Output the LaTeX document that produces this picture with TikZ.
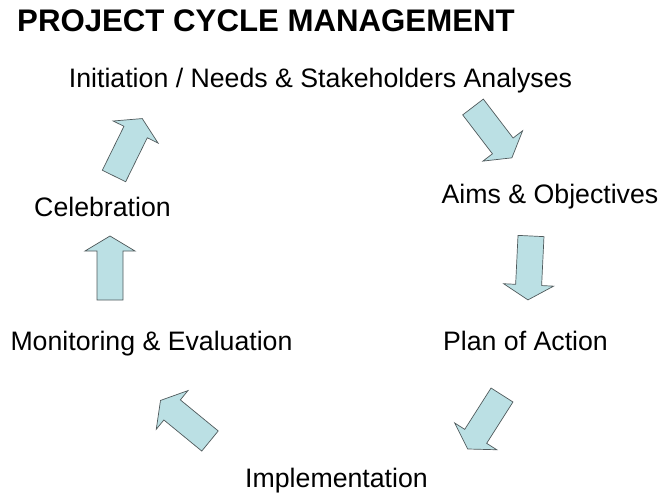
\documentclass[tikz,border=0pt]{standalone}
\usepackage{fontspec}
\setmainfont{Liberation Sans}
\usepackage{tikz}
\usetikzlibrary{positioning}

\definecolor{arrowblue}{RGB}{187,224,228}
\definecolor{arrowline}{RGB}{80,90,92}

\tikzset{
  stage/.style={inner sep=0pt, anchor=base, font=\fontsize{26.7}{32}\selectfont},
  arrowbody/.style={fill=arrowblue, draw=arrowline, line width=0.7pt, line join=miter},
  cyclearrow/.pic={
    \filldraw[arrowbody] (0,-13) -- (49,-13) -- (49,-25) -- (64,0)
      -- (49,25) -- (49,13) -- (0,13) -- cycle;
  }
}

\begin{document}
\begin{tikzpicture}[x=1pt, y=-1pt]
  \useasboundingbox (0,0) rectangle (662,495);

  % title
  \node [inner sep=0pt, anchor=base west, font=\fontsize{31.2}{36}\selectfont\bfseries] (title) at (17,32) {PROJECT CYCLE MANAGEMENT};

  % the stages of the cycle
  \node [stage] (init) at (320.5,88) {Initiation / Needs \& Stakeholders Analyses};
  \node [stage] (aims) at (550,203) {Aims \& Objectives};
  \node [stage] (plan) at (525.5,350) {Plan of Action};
  \node [stage] (impl) at (336.5,487) {Implementation};
  \node [stage] (monit) at (151.5,350) {Monitoring \& Evaluation};
  \node [stage] (celeb) at (102.5,216) {Celebration};

  % arrow ends
  \coordinate (i2a-s) at (473,107);  \coordinate (i2a-e) at (512,158);
  \coordinate (a2p-s) at (531,236);  \coordinate (a2p-e) at (528,298);
  \coordinate (p2i-s) at (502,395);  \coordinate (p2i-e) at (467,450);
  \coordinate (i2m-s) at (210,441);  \coordinate (i2m-e) at (160,400);
  \coordinate (m2c-s) at (110,300);  \coordinate (m2c-e) at (110,237);
  \coordinate (c2i-s) at (114,176);  \coordinate (c2i-e) at (143,117);

  \path (i2a-s) -- (i2a-e) pic [pos=0, sloped, allow upside down] {cyclearrow};
  \path (a2p-s) -- (a2p-e) pic [pos=0, sloped, allow upside down] {cyclearrow};
  \path (p2i-s) -- (p2i-e) pic [pos=0, sloped, allow upside down] {cyclearrow};
  \path (i2m-s) -- (i2m-e) pic [pos=0, sloped, allow upside down] {cyclearrow};
  \path (m2c-s) -- (m2c-e) pic [pos=0, sloped, allow upside down] {cyclearrow};
  \path (c2i-s) -- (c2i-e) pic [pos=0, sloped, allow upside down] {cyclearrow};
\end{tikzpicture}
\end{document}
